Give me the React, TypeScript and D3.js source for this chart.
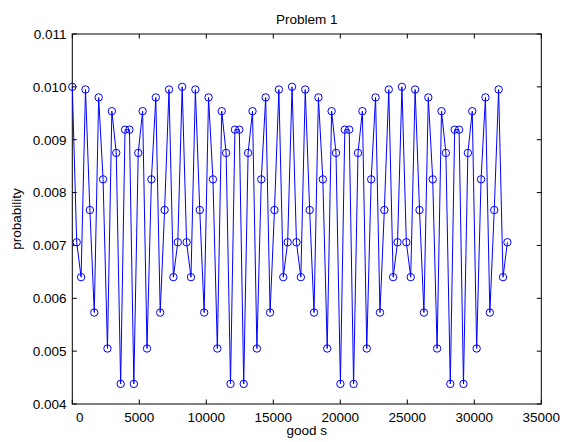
import React, { useEffect, useRef } from "react";
import * as d3 from "d3";

// good s values (x)
const goodS = [
  0, 328, 656, 984, 1312, 1640, 1968, 2296, 2624, 2952,
  3280, 3608, 3936, 4264, 4592, 4920, 5248, 5576, 5904, 6232,
  6560, 6888, 7216, 7544, 7872, 8200, 8528, 8856, 9184, 9512,
  9840, 10168, 10496, 10824, 11152, 11480, 11808, 12136, 12464, 12792,
  13120, 13448, 13776, 14104, 14432, 14760, 15088, 15416, 15744, 16072,
  16400, 16728, 17056, 17384, 17712, 18040, 18368, 18696, 19024, 19352,
  19680, 20008, 20336, 20664, 20992, 21320, 21648, 21976, 22304, 22632,
  22960, 23288, 23616, 23944, 24272, 24600, 24928, 25256, 25584, 25912,
  26240, 26568, 26896, 27224, 27552, 27880, 28208, 28536, 28864, 29192,
  29520, 29848, 30176, 30504, 30832, 31160, 31488, 31816, 32144, 32472,
];

// probability values
const probability = [
  0.0100, 0.00706, 0.0064, 0.00995, 0.00767, 0.00573, 0.0098, 0.00825, 0.00505, 0.00954,
  0.00875, 0.00438, 0.00919, 0.00919, 0.00438, 0.00875, 0.00954, 0.00505, 0.00825, 0.0098,
  0.00573, 0.00767, 0.00995, 0.0064, 0.00706,
  0.0100, 0.00706, 0.0064, 0.00995, 0.00767, 0.00573, 0.0098, 0.00825, 0.00505, 0.00954,
  0.00875, 0.00438, 0.00919, 0.00919, 0.00438, 0.00875, 0.00954, 0.00505, 0.00825, 0.0098,
  0.00573, 0.00767, 0.00995, 0.0064, 0.00706,
  0.0100, 0.00706, 0.0064, 0.00995, 0.00767, 0.00573, 0.0098, 0.00825, 0.00505, 0.00954,
  0.00875, 0.00438, 0.00919, 0.00919, 0.00438, 0.00875, 0.00954, 0.00505, 0.00825, 0.0098,
  0.00573, 0.00767, 0.00995, 0.0064, 0.00706,
  0.0100, 0.00706, 0.0064, 0.00995, 0.00767, 0.00573, 0.0098, 0.00825, 0.00505, 0.00954,
  0.00875, 0.00438, 0.00919, 0.00919, 0.00438, 0.00875, 0.00954, 0.00505, 0.00825, 0.0098,
  0.00573, 0.00767, 0.00995, 0.0064, 0.00706,
];

const xTicks = [0, 5000, 10000, 15000, 20000, 25000, 30000, 35000];
const yTicks = [0.004, 0.005, 0.006, 0.007, 0.008, 0.009, 0.01, 0.011];

const App = () => {
  const svgRef = useRef<SVGSVGElement>(null);
  const width = 563;
  const height = 442;

  useEffect(() => {
    const svg = d3.select(svgRef.current);
    svg.selectAll("*").remove();

    const left = 72.3, right = 541.3, top = 34, bottom = 404;
    const font = "Helvetica, 'Liberation Sans', Arial, sans-serif";
    const fs = 13.5;
    const tickLen = 4.5;

    const x = d3.scaleLinear().domain([0, 35000]).range([left, right]);
    const y = d3.scaleLinear().domain([0.004, 0.011]).range([bottom, top]);

    svg.append("rect").attr("width", width).attr("height", height).attr("fill", "#fff");

    // box
    svg.append("rect")
      .attr("x", left).attr("y", top)
      .attr("width", right - left).attr("height", bottom - top)
      .attr("fill", "none").attr("stroke", "#000").attr("stroke-width", 1);

    const g = svg.append("g").attr("stroke", "#000").attr("stroke-width", 1);

    xTicks.forEach((t) => {
      g.append("line").attr("x1", x(t)).attr("x2", x(t)).attr("y1", bottom).attr("y2", bottom - tickLen);
      g.append("line").attr("x1", x(t)).attr("x2", x(t)).attr("y1", top).attr("y2", top + tickLen);
    });
    yTicks.forEach((t) => {
      g.append("line").attr("x1", left).attr("x2", left + tickLen).attr("y1", y(t)).attr("y2", y(t));
      g.append("line").attr("x1", right).attr("x2", right - tickLen).attr("y1", y(t)).attr("y2", y(t));
    });

    svg.selectAll(".xlab")
      .data(xTicks)
      .enter()
      .append("text")
      .attr("x", (d) => x(d) + (d === 0 ? 7.5 : 0))
      .attr("y", 422)
      .attr("text-anchor", "middle")
      .style("font-family", font)
      .style("font-size", `${fs}px`)
      .text((d) => String(d));

    svg.selectAll(".ylab")
      .data(yTicks)
      .enter()
      .append("text")
      .attr("x", 66.5)
      .attr("y", (d) => y(d))
      .attr("dy", "0.36em")
      .attr("text-anchor", "end")
      .style("font-family", font)
      .style("font-size", `${fs}px`)
      .text((d) => d3.format(".3f")(d));

    svg.append("text")
      .attr("x", (left + right) / 2).attr("y", 24)
      .attr("text-anchor", "middle")
      .style("font-family", font).style("font-size", `${fs}px`)
      .text("Problem 1");

    svg.append("text")
      .attr("x", (left + right) / 2).attr("y", 435)
      .attr("text-anchor", "middle")
      .style("font-family", font).style("font-size", `${fs}px`)
      .text("good s");

    svg.append("text")
      .attr("transform", `translate(21,${(top + bottom) / 2}) rotate(-90)`)
      .attr("text-anchor", "middle")
      .style("font-family", font).style("font-size", `${fs}px`)
      .text("probability");

    const data = goodS.map((s, i) => ({ s, p: probability[i] }));

    const line = d3.line<{ s: number; p: number }>()
      .x((d) => x(d.s))
      .y((d) => y(d.p));

    svg.append("path")
      .datum(data)
      .attr("d", line)
      .attr("fill", "none")
      .attr("stroke", "#0000ff")
      .attr("stroke-width", 1);

    svg.selectAll(".pt")
      .data(data)
      .enter()
      .append("circle")
      .attr("cx", (d) => x(d.s))
      .attr("cy", (d) => y(d.p))
      .attr("r", 3.7)
      .attr("fill", "none")
      .attr("stroke", "#0000ff")
      .attr("stroke-width", 1);
  }, []);

  return (
    <svg
      ref={svgRef}
      width={width}
      height={height}
      style={{ position: "absolute", left: 0, top: 0 }}
    />
  );
};

export default App;
